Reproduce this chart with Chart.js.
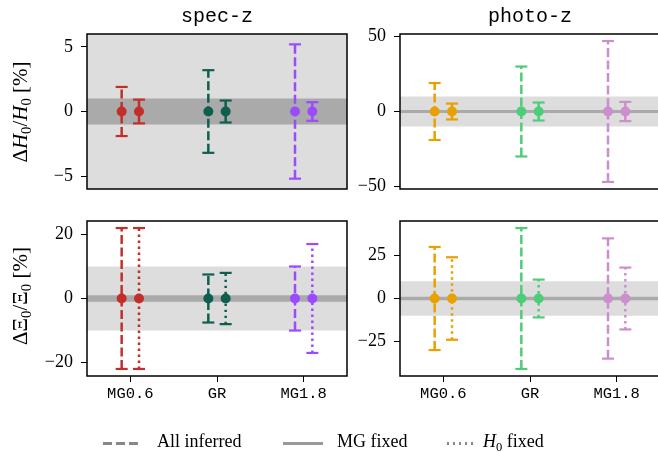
<!DOCTYPE html>
<html>
<head>
<meta charset="utf-8">
<script src="https://cdn.jsdelivr.net/npm/chart.js@4.4.1/dist/chart.umd.min.js"></script>
<style>
  html, body { margin: 0; padding: 0; background: #fff; }
  body { width: 658px; height: 452px; position: relative; overflow: hidden; font-family: 'Liberation Serif', serif; color: #000; }
  canvas { position: absolute; }
  .title { position: absolute; top: 7px; font-family: 'Liberation Mono', monospace; font-size: 20px; line-height: 20px; transform: translateX(-50%); white-space: nowrap; }
  .ylab { position: absolute; font-size: 21px; line-height: 21px; white-space: nowrap; transform: translate(-50%, -50%) rotate(-90deg); }
  .ylab sub, .leg sub { font-size: 0.7em; vertical-align: -0.3em; line-height: 0; }
  .leg { position: absolute; top: 432px; font-size: 18px; line-height: 18px; white-space: nowrap; }
  .legline { position: absolute; top: 442px; height: 2.5px; }
</style>
</head>
<body>
<canvas id="specH0" width="340" height="203" style="left:27px; top:10px"></canvas>
<canvas id="photoH0" width="340" height="203" style="left:340px; top:10px"></canvas>
<canvas id="specXi" width="340" height="219" style="left:27px; top:197px"></canvas>
<canvas id="photoXi" width="340" height="219" style="left:340px; top:197px"></canvas>

<div class="title" style="left:217px">spec-z</div>
<div class="title" style="left:530px">photo-z</div>
<div class="ylab" style="left:20px; top:112px">Δ<i>H</i><sub>0</sub>/<i>H</i><sub>0</sub> [%]</div>
<div class="ylab" style="left:20px; top:296px">ΔΞ<sub>0</sub>/Ξ<sub>0</sub> [%]</div>

<div class="legline" style="left:103px; width:39px; background: repeating-linear-gradient(to right, #888 0 9px, transparent 9px 13px)"></div>
<div class="leg" style="left:157px">All inferred</div>
<div class="legline" style="left:283px; width:40px; background:#999"></div>
<div class="leg" style="left:337px">MG fixed</div>
<div class="legline" style="left:447px; width:30px; background: repeating-linear-gradient(to right, #888 0 2px, transparent 2px 6px)"></div>
<div class="leg" style="left:483px"><i>H</i><sub>0</sub> fixed</div>

<script>
const categories = ['MG0.6', 'GR', 'MG1.8'];
const specColors = ['#c22f2a', '#0f5f50', '#9b4bff'];
const photoColors = ['#e8a100', '#4ecd78', '#cc8ecc'];

// central values are all zero, errors are symmetric half-widths in %
const centre = [0, 0, 0];
const specH0AllInferred = [1.9, 3.2, 5.2];
const specH0MgFixed = [0.92, 0.85, 0.72];
const photoH0AllInferred = [19, 30, 47];
const photoH0MgFixed = [5.3, 6, 6.4];
const specXiAllInferred = [22, 7.5, 10];
const specXiH0Fixed = [22, 8, 17];
const photoXiAllInferred = [30, 41, 35];
const photoXiH0Fixed = [24, 11, 18];

const specH0Ticks = [-5, 0, 5];
const photoH0Ticks = [-50, 0, 50];
const specXiTicks = [-20, 0, 20];
const photoXiTicks = [-25, 0, 25];

const outerBand = 10;
const innerBand = 1;

const DASHED = [9, 3.5];
const DOTTED = [2.4, 3.6];
const SOLID = [];

const frame = {
  id: 'frame',
  afterDatasetsDraw(chart) {
    const { ctx, chartArea: a } = chart;
    ctx.save();
    ctx.strokeStyle = '#000';
    ctx.lineWidth = 1.5;
    ctx.strokeRect(a.left, a.top, a.right - a.left, a.bottom - a.top);
    ctx.restore();
  }
};

function bandDataset(h, color, order) {
  return {
    data: [{ x: -0.5, y: h }, { x: 2.5, y: h }],
    fill: { value: -h },
    backgroundColor: color,
    borderColor: 'transparent',
    borderWidth: 0,
    pointRadius: 0,
    order: order
  };
}

function errDataset(x, err, color, dash) {
  return {
    data: [{ x: x, y: -err }, { x: x, y: err }],
    borderColor: color,
    borderWidth: 2.5,
    borderDash: dash,
    borderCapStyle: 'butt',
    pointStyle: 'line',
    pointRadius: 6,
    pointBorderWidth: 2.2,
    pointBorderColor: color,
    fill: false,
    order: 1
  };
}

function fmt(v) {
  return v < 0 ? '\u2212' + Math.abs(v) : String(v);
}

function makePanel(id, yLim, yTicks, inferred, other, otherDash, colors, showX) {
  const datasets = [bandDataset(outerBand, '#dddddd', 4), bandDataset(innerBand, '#aaaaaa', 3)];
  categories.forEach((c, i) => {
    datasets.push(errDataset(i - 0.1, inferred[i], colors[i], DASHED));
    datasets.push(errDataset(i + 0.1, other[i], colors[i], otherDash));
  });
  datasets.push({
    data: centre.map((v, i) => ({ x: i - 0.1, y: v })).concat(centre.map((v, i) => ({ x: i + 0.1, y: v }))),
    showLine: false,
    pointRadius: 5,
    pointBorderWidth: 0,
    pointBackgroundColor: colors.concat(colors),
    order: 0
  });

  new Chart(document.getElementById(id), {
    type: 'line',
    data: { datasets },
    options: {
      responsive: false,
      animation: false,
      events: [],
      layout: { padding: { left: 0, top: 24, right: 20, bottom: showX ? 0 : 24 } },
      plugins: { legend: { display: false }, tooltip: { enabled: false } },
      scales: {
        x: {
          type: 'linear',
          min: -0.5,
          max: 2.5,
          display: showX,
          afterBuildTicks: s => { s.ticks = categories.map((c, i) => ({ value: i })); },
          afterFit: s => { s.height = showX ? 40 : 0; },
          grid: { drawOnChartArea: false, tickLength: 6, color: '#000', lineWidth: 1 },
          border: { display: false },
          ticks: {
            callback: v => categories[v],
            font: { family: 'Liberation Mono', size: 15.5 },
            color: '#000',
            padding: 3,
            maxRotation: 0,
            autoSkip: false
          }
        },
        y: {
          min: yLim[0],
          max: yLim[1],
          afterBuildTicks: s => { s.ticks = yTicks.map(v => ({ value: v })); },
          afterFit: s => { s.width = 60; },
          grid: { drawOnChartArea: false, tickLength: 6, color: '#000', lineWidth: 1 },
          border: { display: false },
          ticks: {
            callback: v => fmt(v),
            font: { family: 'Liberation Serif', size: 18 },
            color: '#000',
            padding: 8
          }
        }
      }
    },
    plugins: [frame]
  });
}

makePanel('specH0', [-6, 6], specH0Ticks, specH0AllInferred, specH0MgFixed, SOLID, specColors, false);
makePanel('photoH0', [-51.7, 51.7], photoH0Ticks, photoH0AllInferred, photoH0MgFixed, SOLID, photoColors, false);
makePanel('specXi', [-24.2, 24.2], specXiTicks, specXiAllInferred, specXiH0Fixed, DOTTED, specColors, true);
makePanel('photoXi', [-45.1, 45.1], photoXiTicks, photoXiAllInferred, photoXiH0Fixed, DOTTED, photoColors, true);
</script>
</body>
</html>
